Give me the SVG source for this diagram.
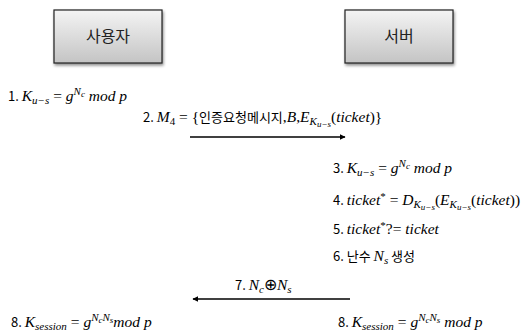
<svg xmlns="http://www.w3.org/2000/svg" width="532" height="333" viewBox="0 0 532 333">
  <defs>
    <linearGradient id="boxFill" x1="0" y1="0" x2="0" y2="1">
      <stop offset="0" stop-color="#f4f4f4"/>
      <stop offset="1" stop-color="#c4c4c4"/>
    </linearGradient>
    <filter id="shadow" x="-10%" y="-10%" width="130%" height="140%">
      <feGaussianBlur in="SourceAlpha" stdDeviation="1.5"/>
      <feOffset dx="1" dy="2" result="off"/>
      <feComponentTransfer><feFuncA type="linear" slope="0.45"/></feComponentTransfer>
      <feMerge><feMergeNode/><feMergeNode in="SourceGraphic"/></feMerge>
    </filter>
    <marker id="arrow" viewBox="0 0 10 10" refX="9" refY="5" markerWidth="6" markerHeight="6" orient="auto" markerUnits="userSpaceOnUse">
      <path d="M0,0 L10,5 L0,10 z" fill="#000"/>
    </marker>
    <style>
      .box { fill: url(#boxFill); stroke: #222; stroke-width: 1.2; filter: url(#shadow); }
      .title { font-family: "Noto Sans CJK KR", "Noto Sans", sans-serif; font-size: 16px; fill: #222; text-anchor: middle; }
      text.t { font-family: "Noto Sans CJK KR", "Noto Sans", sans-serif; font-size: 13px; fill: #000; }
      .m { font-family: "Liberation Serif", serif; font-style: italic; font-size: 15.5px; }
      .r { font-family: "Liberation Serif", serif; font-style: normal; font-size: 15.5px; }
      .s { font-family: "Liberation Serif", serif; font-style: italic; font-size: 11px; }
      .sr { font-family: "Liberation Serif", serif; font-style: normal; font-size: 11px; }
      .ss { font-family: "Liberation Serif", serif; font-style: italic; font-size: 9px; }
      .k { font-family: "Noto Sans CJK KR", sans-serif; font-size: 13px; font-style: normal; }
      .line { stroke: #000; stroke-width: 1.5; fill: none; }
    </style>
  </defs>

  <!-- participants -->
  <g id="user">
    <rect class="box" x="54" y="10" width="108" height="53"/>
    <text class="title" x="108" y="42">사용자</text>
  </g>
  <g id="server">
    <rect class="box" x="345" y="10" width="108" height="53"/>
    <text class="title" x="399" y="42">서버</text>
  </g>

  <!-- message arrows -->
  <g id="connectors">
    <line class="line" x1="190" y1="137" x2="345" y2="137" marker-end="url(#arrow)"/>
    <line class="line" x1="350" y1="299" x2="193" y2="299" marker-end="url(#arrow)"/>
  </g>

  <!-- protocol steps -->
  <g id="steps">
    <text class="t" x="8" y="101">1. <tspan class="m">K</tspan><tspan class="s" dy="3">u−s</tspan><tspan class="r" dy="-3"> = </tspan><tspan class="m">g</tspan><tspan class="s" dy="-6">N</tspan><tspan class="ss" dy="2">c</tspan><tspan class="m" dy="4"> mod p</tspan></text>

    <text class="t" x="143" y="122">2. <tspan class="m">M</tspan><tspan class="sr" dy="3">4</tspan><tspan class="r" dy="-3"> = {</tspan><tspan class="k">인증요청메시지</tspan><tspan class="r">,</tspan><tspan class="m">B</tspan><tspan class="r">,</tspan><tspan class="m">E</tspan><tspan class="s" dy="3">K</tspan><tspan class="ss" dy="2">u−s</tspan><tspan class="r" dy="-5">(</tspan><tspan class="m">ticket</tspan><tspan class="r">)}</tspan></text>

    <text class="t" x="333" y="173">3. <tspan class="m">K</tspan><tspan class="s" dy="3">u−s</tspan><tspan class="r" dy="-3"> = </tspan><tspan class="m">g</tspan><tspan class="s" dy="-6">N</tspan><tspan class="ss" dy="2">c</tspan><tspan class="m" dy="4"> mod p</tspan></text>

    <text class="t" x="333" y="205">4. <tspan class="m">ticket</tspan><tspan class="sr" dy="-5">*</tspan><tspan class="r" dy="5"> = </tspan><tspan class="m">D</tspan><tspan class="s" dy="3">K</tspan><tspan class="ss" dy="2">u−s</tspan><tspan class="r" dy="-5">(</tspan><tspan class="m">E</tspan><tspan class="s" dy="3">K</tspan><tspan class="ss" dy="2">u−s</tspan><tspan class="r" dy="-5">(</tspan><tspan class="m">ticket</tspan><tspan class="r">))</tspan></text>

    <text class="t" x="333" y="234">5. <tspan class="m">ticket</tspan><tspan class="sr" dy="-5">*</tspan><tspan class="r" dy="5">?= </tspan><tspan class="m">ticket</tspan></text>

    <text class="t" x="333" y="261">6. 난수 <tspan class="m">N</tspan><tspan class="s" dy="3">s</tspan><tspan dy="-3"> 생성</tspan></text>

    <text class="t" x="235" y="290">7. <tspan class="m">N</tspan><tspan class="s" dy="3">c</tspan><tspan class="r" dy="-3">⊕</tspan><tspan class="m">N</tspan><tspan class="s" dy="3">s</tspan></text>

    <text class="t" x="11" y="327">8. <tspan class="m">K</tspan><tspan class="s" dy="3">session</tspan><tspan class="r" dy="-3"> = </tspan><tspan class="m">g</tspan><tspan class="s" dy="-6">N</tspan><tspan class="ss" dy="2">c</tspan><tspan class="s" dy="-2">N</tspan><tspan class="ss" dy="2">s</tspan><tspan class="m" dy="4">mod p</tspan></text>

    <text class="t" x="338" y="327">8. <tspan class="m">K</tspan><tspan class="s" dy="3">session</tspan><tspan class="r" dy="-3"> = </tspan><tspan class="m">g</tspan><tspan class="s" dy="-6">N</tspan><tspan class="ss" dy="2">c</tspan><tspan class="s" dy="-2">N</tspan><tspan class="ss" dy="2">s</tspan><tspan class="m" dy="4"> mod p</tspan></text>
  </g>
</svg>
